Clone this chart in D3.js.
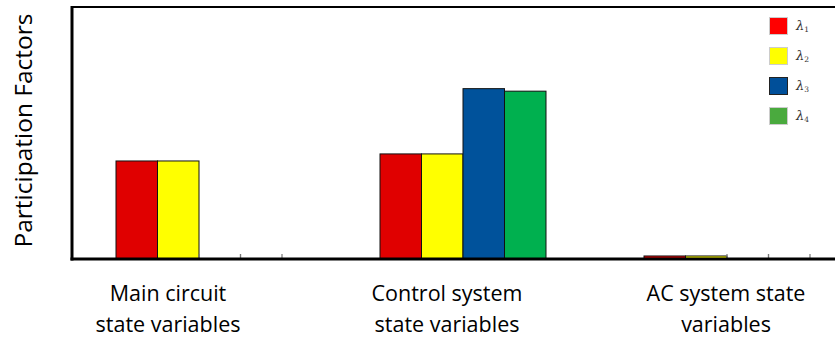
<!DOCTYPE html>
<html><head><meta charset="utf-8">
<script src="https://cdn.jsdelivr.net/npm/d3@7"></script>
<style>body{margin:0;background:#fff}svg{display:block}</style>
</head><body>
<svg id="c" width="835" height="338"></svg>
<script>
const categories = ["Main circuit\nstate variables", "Control system\nstate variables", "AC system state\nvariables"];
const seriesNames = ["λ1", "λ2", "λ3", "λ4"];
const lambda1 = [0.389, 0.417, 0.012];
const lambda2 = [0.389, 0.417, 0.012];
const lambda3 = [0, 0.676, 0];
const lambda4 = [0, 0.666, 0];
const barColors = ["#e00000", "#ffff00", "#00529b", "#00b04f"];
const legendColors = ["#ff0000", "#ffff00", "#004f99", "#4aaa3e"];
const yTitle = "Participation Factors";

(function(){
const seriesVals = [lambda1, lambda2, lambda3, lambda4];
const svg = d3.select("#c");
const mLeft = 72, mTop = 7, mBottom = 259, plotRight = 864;

const x0 = d3.scaleBand().domain(categories).range([mLeft, plotRight]);
const x1 = d3.scaleBand().domain(seriesNames).range([44, 44 + 166]);
const y = d3.scaleLinear().domain([0, 1]).range([mBottom, mTop]);
const xLabel = d3.scalePoint().domain(categories).range([168, 726]);

categories.forEach((c, ci) => {
  seriesNames.forEach((s, si) => {
    const v = seriesVals[si][ci];
    const bx = x0(c) + x1(s);
    if (v > 0) {
      svg.append("rect")
        .attr("x", bx).attr("y", y(v))
        .attr("width", x1.bandwidth()).attr("height", y(0) - y(v))
        .attr("fill", barColors[si]).attr("stroke", "#111").attr("stroke-width", 1);
    } else {
      [bx, bx + x1.bandwidth()].forEach(ex => {
        svg.append("line").attr("x1", ex).attr("x2", ex)
          .attr("y1", y(0) - 5).attr("y2", y(0))
          .attr("stroke", "#777").attr("stroke-width", 1.2);
      });
    }
  });
});

svg.append("line").attr("x1", mLeft - 1).attr("x2", 835).attr("y1", mTop).attr("y2", mTop)
  .attr("stroke", "#000").attr("stroke-width", 2.2);
svg.append("line").attr("x1", mLeft).attr("x2", mLeft).attr("y1", mTop - 1).attr("y2", mBottom + 1.5)
  .attr("stroke", "#000").attr("stroke-width", 3);
svg.append("line").attr("x1", mLeft - 1.5).attr("x2", 835).attr("y1", mBottom).attr("y2", mBottom)
  .attr("stroke", "#000").attr("stroke-width", 3);

categories.forEach(c => {
  const lines = c.split("\n");
  const t = svg.append("text").attr("text-anchor", "middle")
    .attr("font-family", "'Open Sans', sans-serif").attr("font-size", 21.5).attr("fill", "#000");
  lines.forEach((ln, i) => {
    t.append("tspan").attr("x", xLabel(c)).attr("y", 301 + i * 31).text(ln);
  });
});

svg.append("text")
  .attr("transform", "translate(32,130.5) rotate(-90)")
  .attr("text-anchor", "middle")
  .attr("font-family", "'Open Sans', sans-serif").attr("font-size", 24.5).attr("fill", "#000")
  .text(yTitle);

const leg = d3.scalePoint().domain(seriesNames).range([26, 116]);
seriesNames.forEach((s, i) => {
  const cy = leg(s);
  svg.append("rect").attr("x", 769.5).attr("y", cy - 8.5).attr("width", 18).attr("height", 17)
    .attr("fill", legendColors[i]).attr("stroke", i === 2 ? "#222" : "#ccc").attr("stroke-width", 1);
  const t = svg.append("text").attr("x", 796).attr("y", cy + 4)
    .attr("font-family", "'DejaVu Serif', serif").attr("fill", "#333");
  t.append("tspan").attr("font-style", "italic").attr("font-size", 13).text("λ");
  t.append("tspan").attr("font-size", 7.5).attr("dy", 2).text(s.slice(1));
});
})();
</script>
</body></html>
